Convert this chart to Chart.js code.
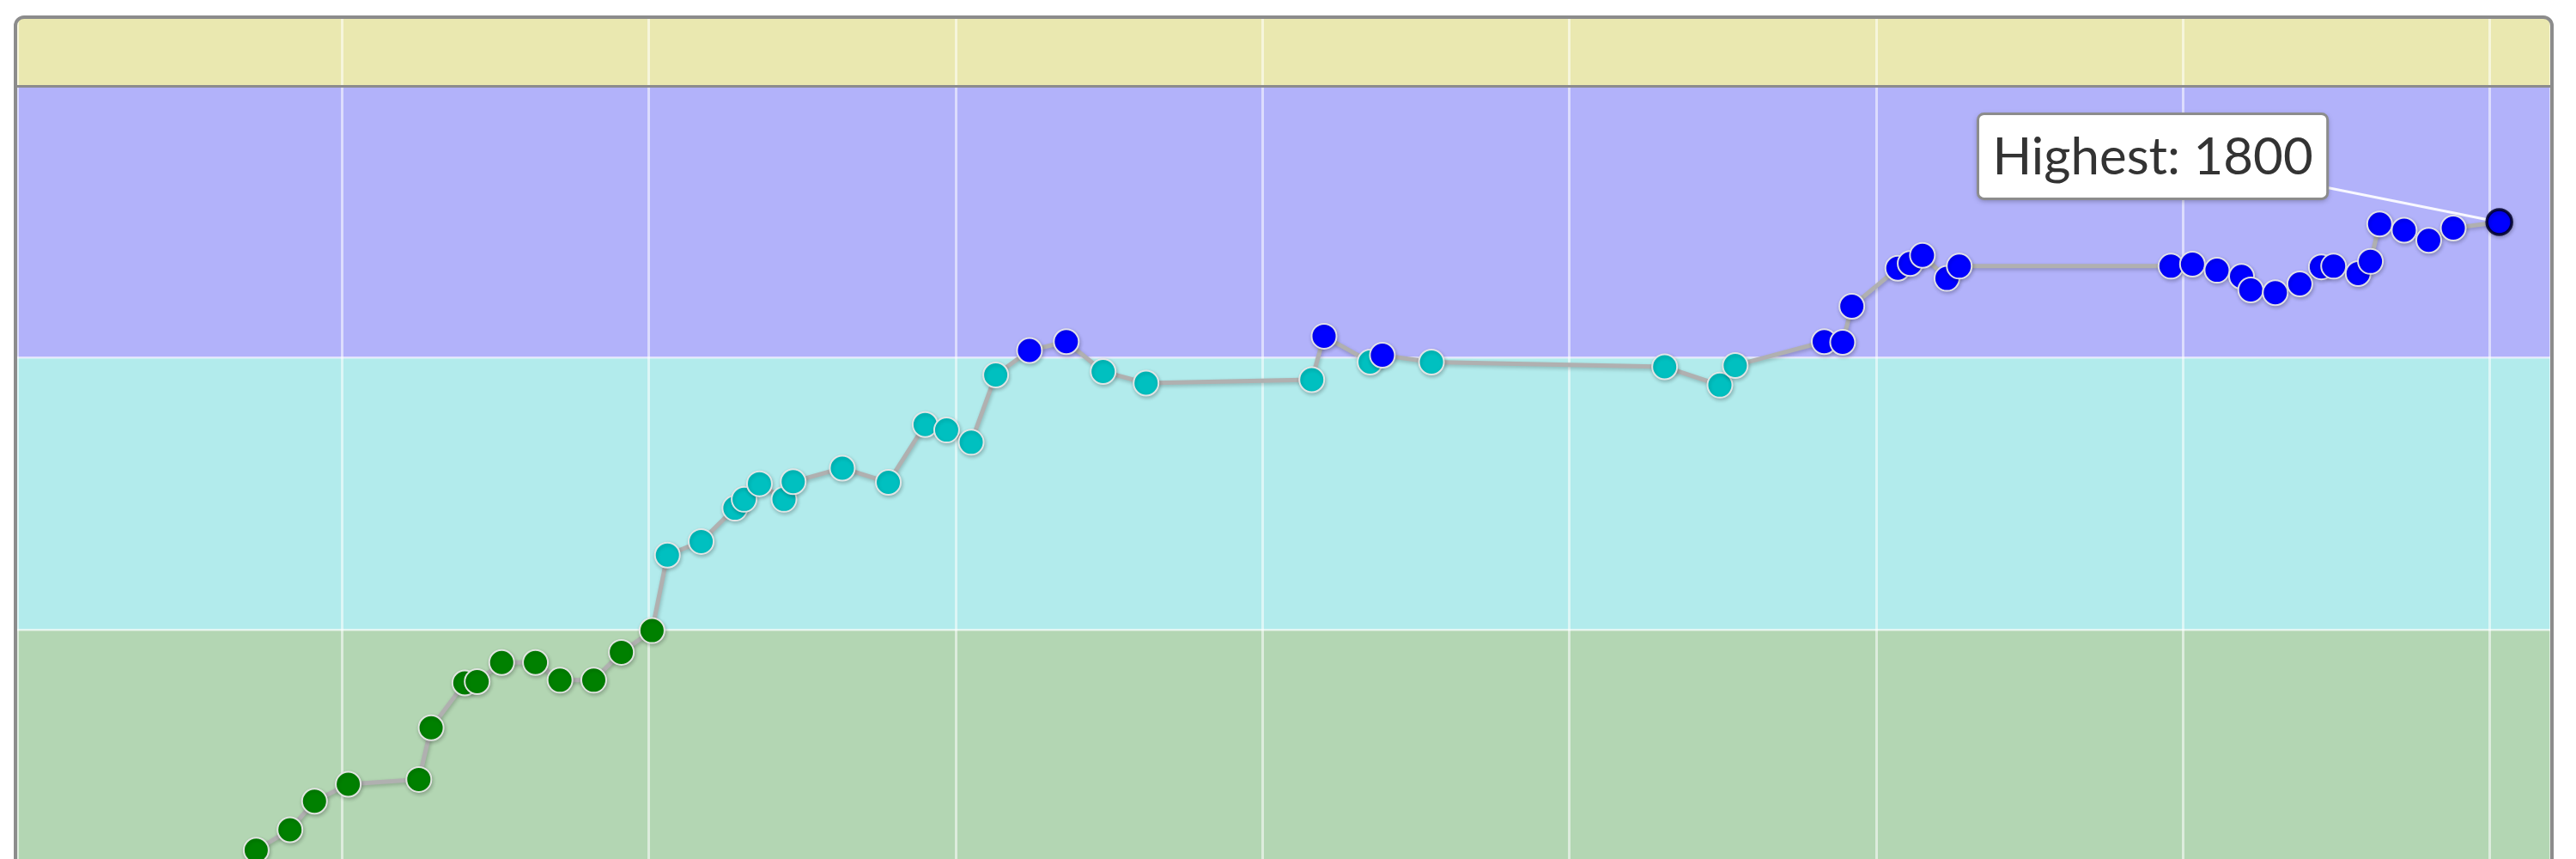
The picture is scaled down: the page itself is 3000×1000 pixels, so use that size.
<!DOCTYPE html>
<html>
<head>
<meta charset="utf-8">
<title>Rating history</title>
<script src="https://cdn.jsdelivr.net/npm/chart.js@4.4.1/dist/chart.umd.min.js"></script>
<style>
  html, body { margin: 0; padding: 0; background: #fff; overflow: hidden; }
  #ratingChart { display: block; }
</style>
</head>
<body>
<canvas id="ratingChart" width="3000" height="1000"></canvas>
<script>
// ===== Data =====
// contest dates, in months from the first grid line
const contestTimes = [
  0.72, 0.83, 0.91, 1.02, 1.25, 1.29, 1.40, 1.44, 1.52, 1.63, 1.71, 1.82, 1.91, 2.01,
  2.06, 2.17, 2.28, 2.31, 2.36, 2.44, 2.47, 2.63, 2.78, 2.90, 2.97, 3.05, 3.13,
  3.24, 3.36, 3.48, 3.62, 4.16, 4.20, 4.35, 4.39, 4.55, 5.31, 5.49, 5.54,
  5.83, 5.89, 5.92, 6.07, 6.11, 6.15, 6.23, 6.27,
  6.96, 7.03, 7.11, 7.19, 7.22, 7.30, 7.38, 7.45, 7.49, 7.57, 7.61,
  7.64, 7.72, 7.80, 7.88, 8.03
];
const ratings = [
  876, 906, 948, 973, 980, 1056, 1122, 1124, 1152, 1152, 1126, 1126, 1167, 1199,
  1310, 1330, 1379, 1392, 1415, 1392, 1418, 1438, 1417, 1502, 1494, 1476, 1575,
  1611, 1624, 1580, 1563, 1568, 1632, 1594, 1604, 1594, 1587, 1560, 1589,
  1624, 1623, 1676, 1732, 1739, 1751, 1717, 1735,
  1735, 1738, 1729, 1720, 1700, 1696, 1709, 1734, 1735, 1724, 1742,
  1797, 1788, 1773, 1791, 1800
];
// rating colour bands (lower bound of each band)
const bandFloors = [800, 1200, 1600, 2000];
const bandFills  = ['#b3d6b3', '#b2ebec', '#b2b2fa', '#eae8b0'];
const rankColors = ['#008000', '#00c0c0', '#0000ff', '#c0c000'];

const peakIndex = ratings.indexOf(Math.max(...ratings));
const peakLabel = 'Highest: ' + ratings[peakIndex];

function bandOf(r) {
  let idx = 0;
  bandFloors.forEach((f, i) => { if (r >= f) idx = i; });
  return idx;
}

// ===== Plugins =====
function roundRectPath(ctx, x, y, w, h, r) {
  ctx.beginPath();
  ctx.moveTo(x + r, y);
  ctx.lineTo(x + w - r, y);
  ctx.arcTo(x + w, y, x + w, y + r, r);
  ctx.lineTo(x + w, y + h - r);
  ctx.arcTo(x + w, y + h, x + w - r, y + h, r);
  ctx.lineTo(x + r, y + h);
  ctx.arcTo(x, y + h, x, y + h - r, r);
  ctx.lineTo(x, y + r);
  ctx.arcTo(x, y, x + r, y, r);
  ctx.closePath();
}

const bandsPlugin = {
  id: 'bands',
  beforeDraw(chart) {
    const { ctx, chartArea: a, scales: { y } } = chart;
    ctx.save();
    bandFloors.forEach((lo, i) => {
      const hi = i + 1 < bandFloors.length ? bandFloors[i + 1] : y.max;
      const top = Math.max(y.getPixelForValue(hi), a.top);
      const bottom = Math.min(y.getPixelForValue(lo), a.bottom);
      if (bottom <= top) return;
      ctx.fillStyle = bandFills[i];
      ctx.fillRect(a.left, top, a.right - a.left, bottom - top);
    });
    ctx.restore();
  }
};

const peakPlugin = {
  id: 'peak',
  // connector goes under the points
  beforeDatasetsDraw(chart) {
    const ctx = chart.ctx;
    const pt = chart.getDatasetMeta(0).data[peakIndex];
    ctx.save();
    ctx.strokeStyle = 'rgba(255,255,255,0.9)';
    ctx.lineWidth = 3;
    ctx.beginPath();
    ctx.moveTo(pt.x, pt.y);
    ctx.lineTo(pt.x - 200, pt.y - 40);
    ctx.stroke();
    ctx.restore();
  },
  afterDatasetsDraw(chart) {
    const ctx = chart.ctx;
    const pt = chart.getDatasetMeta(0).data[peakIndex];
    ctx.save();
    ctx.font = '60px Lato';
    const w = ctx.measureText(peakLabel).width + 34;
    const h = 99;
    const right = pt.x - 200;
    const top = pt.y - 126;
    roundRectPath(ctx, right - w, top, w, h, 7);
    ctx.shadowColor = 'rgba(0,0,0,0.35)';
    ctx.shadowBlur = 6;
    ctx.shadowOffsetY = 2;
    ctx.fillStyle = '#ffffff';
    ctx.fill();
    ctx.shadowColor = 'transparent';
    ctx.strokeStyle = '#8c8c8c';
    ctx.lineWidth = 3;
    ctx.stroke();
    ctx.fillStyle = '#333333';
    ctx.textBaseline = 'middle';
    ctx.textAlign = 'left';
    ctx.fillText(peakLabel, right - w + 17, top + h / 2 + 2);
    ctx.restore();
  }
};

const shadowPlugin = {
  id: 'markShadow',
  beforeDatasetDraw(chart) {
    const ctx = chart.ctx;
    ctx.save();
    ctx.shadowColor = 'rgba(0,0,0,0.22)';
    ctx.shadowBlur = 4;
    ctx.shadowOffsetX = 1;
    ctx.shadowOffsetY = 2;
  },
  afterDatasetDraw(chart) {
    chart.ctx.restore();
  }
};

const framePlugin = {
  id: 'frame',
  afterDraw(chart) {
    const ctx = chart.ctx;
    ctx.save();
    roundRectPath(ctx, 18, 20, 2954, 1200, 10);
    ctx.strokeStyle = '#8c8c8c';
    ctx.lineWidth = 4;
    ctx.stroke();
    ctx.restore();
  }
};

// ===== Chart =====
const ctx = document.getElementById('ratingChart').getContext('2d');
new Chart(ctx, {
  type: 'line',
  data: {
    datasets: [{
      label: 'Rating',
      data: contestTimes.map((t, i) => ({ x: t, y: ratings[i] })),
      borderColor: '#b0b0b0',
      borderWidth: 5,
      tension: 0,
      fill: false,
      clip: false,
      pointRadius: 14.5,
      pointHoverRadius: 14.5,
      pointBackgroundColor: ratings.map(r => rankColors[bandOf(r)]),
      pointBorderColor: ratings.map((r, i) => i === peakIndex ? 'rgba(0,0,40,0.85)' : 'rgba(232,232,232,0.95)'),
      pointBorderWidth: ratings.map((r, i) => i === peakIndex ? 3.5 : 2)
    }]
  },
  options: {
    responsive: false,
    animation: false,
    layout: { autoPadding: false, padding: { left: 20, right: 30, top: 21, bottom: 0 } },
    plugins: { legend: { display: false }, tooltip: { enabled: false } },
    scales: {
      x: {
        type: 'linear',
        min: -0.059,
        max: 8.196,
        ticks: { display: false, stepSize: 1 },
        border: { display: false },
        grid: { color: 'rgba(255,255,255,0.55)', lineWidth: 3, drawTicks: false }
      },
      y: {
        min: 863,
        max: 2100,
        afterBuildTicks: axis => { axis.ticks = bandFloors.slice(1).map(v => ({ value: v })); },
        ticks: { display: false },
        border: { display: false },
        grid: {
          drawTicks: false,
          color: c => c.tick && c.tick.value === 2000 ? '#8c8c8c' : 'rgba(255,255,255,0.6)',
          lineWidth: c => c.tick && c.tick.value === 2000 ? 3 : 2.5
        }
      }
    }
  },
  plugins: [bandsPlugin, shadowPlugin, peakPlugin, framePlugin]
});
</script>
</body>
</html>
